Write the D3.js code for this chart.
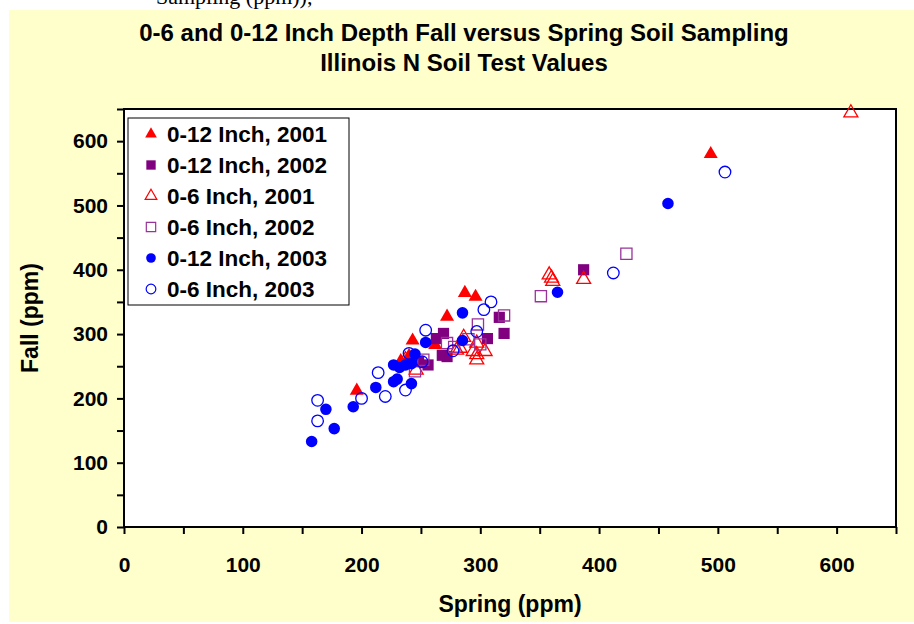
<!DOCTYPE html>
<html>
<head>
<meta charset="utf-8">
<script src="https://cdn.jsdelivr.net/npm/d3@7"></script>
<style>
  body { margin: 0; background: #fff; }
  text { font-family: Arial, "Liberation Sans", sans-serif; font-weight: bold; }
</style>
</head>
<body>
<div id="chart"></div>
<script>
// data: [spring, fall] in ppm
var in12_2001 = [[196,212],[233,258],[240,266],[243,290],[262,283],[272,327],[287,364],[296,358],[494,580]];
var in12_2002 = [[248,257],[256,252],[263,293],[268,267],[269,301],[272,265],[306,293],[316,326],[320,301],[387,400]];
var in6_2001 = [[237,260],[246,244],[280,275],[283,278],[286,295],[294,273],[297,286],[297,260],[297,268],[304,273],[358,392],[360,387],[361,382],[387,385],[612,644]];
var in6_2002 = [[245,242],[252,260],[272,286],[278,280],[290,292],[298,315],[300,284],[320,329],[351,359],[423,425]];
var in12_2003 = [[158,133],[170,183],[177,153],[193,187],[212,217],[227,226],[230,230],[227,252],[232,248],[237,252],[242,254],[242,223],[245,269],[254,287],[285,290],[285,333],[365,365],[458,503]];
var in6_2003 = [[163,197],[163,165],[200,200],[214,240],[220,203],[237,213],[240,270],[251,257],[254,306],[277,274],[297,304],[303,338],[309,350],[412,395],[506,552]];

var seriesNames = ["0-12 Inch, 2001","0-12 Inch, 2002","0-6 Inch, 2001","0-6 Inch, 2002","0-12 Inch, 2003","0-6 Inch, 2003"];
var xTicks = [0,100,200,300,400,500,600];
var yTicks = [0,100,200,300,400,500,600];

var series = [
  { name: seriesNames[0], data: in12_2001, shape: d3.symbolTriangle, color: "#ff0000", filled: true },
  { name: seriesNames[1], data: in12_2002, shape: d3.symbolSquare, color: "#800080", filled: true },
  { name: seriesNames[2], data: in6_2001, shape: d3.symbolTriangle, color: "#ff0000", filled: false },
  { name: seriesNames[3], data: in6_2002, shape: d3.symbolSquare, color: "#993399", filled: false },
  { name: seriesNames[4], data: in12_2003, shape: d3.symbolCircle, color: "#0000ff", filled: true },
  { name: seriesNames[5], data: in6_2003, shape: d3.symbolCircle, color: "#0000ff", filled: false }
];

var width = 914, height = 624;
var margin = { top: 109, right: 18, bottom: 97, left: 124 };
var plotW = width - margin.left - margin.right;
var plotH = height - margin.top - margin.bottom;

var svg = d3.select("#chart").append("svg")
  .attr("width", width)
  .attr("height", height);

// caption of the page above, cut off by the top edge
svg.append("text")
  .attr("x", 156).attr("y", 4)
  .style("font-family", "'Liberation Serif', 'Times New Roman', serif")
  .style("font-weight", "normal")
  .style("font-size", "22px")
  .text("Sampling (ppm)),");

svg.append("rect")
  .attr("x", 9).attr("y", 10)
  .attr("width", width - 9).attr("height", 612)
  .attr("fill", "#ffffcc");

svg.append("text")
  .attr("x", 464).attr("y", 41)
  .attr("text-anchor", "middle")
  .style("font-size", "24px")
  .text("0-6 and 0-12 Inch Depth Fall versus Spring Soil Sampling");
svg.append("text")
  .attr("x", 464).attr("y", 71)
  .attr("text-anchor", "middle")
  .style("font-size", "24px")
  .text("Illinois N Soil Test Values");

var xScale = d3.scaleLinear().domain([0, 650]).range([0, plotW]);
var yScale = d3.scaleLinear().domain([0, 650]).range([plotH, 0]);

var g = svg.append("g").attr("transform", "translate(" + margin.left + "," + margin.top + ")");

g.append("rect")
  .attr("width", plotW).attr("height", plotH)
  .attr("fill", "#fff");

var xAxis = d3.axisBottom(xScale).tickValues(d3.range(0, 651, 50)).tickSize(7)
  .tickFormat(function(d) { return xTicks.indexOf(d) >= 0 ? d : ""; });
var yAxis = d3.axisLeft(yScale).tickValues(d3.range(0, 651, 50)).tickSize(7)
  .tickFormat(function(d) { return yTicks.indexOf(d) >= 0 ? d : ""; });

var xAxisG = g.append("g").attr("transform", "translate(0," + plotH + ")").call(xAxis);
var yAxisG = g.append("g").call(yAxis);

[xAxisG, yAxisG].forEach(function(a) {
  a.select(".domain").remove();
  a.selectAll(".tick line").attr("stroke", "#000").attr("stroke-width", 2);
  a.selectAll(".tick text").style("font-size", "21px").attr("fill", "#000");
});
xAxisG.selectAll(".tick text").attr("y", 30).attr("dy", "0.71em");
yAxisG.selectAll(".tick text").attr("x", -16);

g.append("rect")
  .attr("width", plotW).attr("height", plotH)
  .attr("fill", "none").attr("stroke", "#000").attr("stroke-width", 2);

function sizeOf(shape) {
  if (shape === d3.symbolTriangle) return 85;
  if (shape === d3.symbolSquare) return 125;
  return 105;
}

series.forEach(function(s) {
  g.append("g").selectAll("path")
    .data(s.data)
    .join("path")
    .attr("transform", function(d) { return "translate(" + xScale(d[0]) + "," + yScale(d[1]) + ")"; })
    .attr("d", d3.symbol().type(s.shape).size(sizeOf(s.shape)))
    .attr("fill", s.filled ? s.color : "none")
    .attr("stroke", s.filled ? "none" : s.color)
    .attr("stroke-width", 1.3);
});

// legend
var legend = svg.append("g").attr("transform", "translate(128,118)");
legend.append("rect")
  .attr("width", 221).attr("height", 187)
  .attr("fill", "#fff").attr("stroke", "#000").attr("stroke-width", 1);

var rows = legend.selectAll("g.row")
  .data(series)
  .join("g")
  .attr("class", "row")
  .attr("transform", function(d, i) { return "translate(0," + (16 + i * 31) + ")"; });

rows.append("path")
  .attr("transform", "translate(23,0)")
  .attr("d", function(d) { return d3.symbol().type(d.shape).size(sizeOf(d.shape) * 0.7)(); })
  .attr("fill", function(d) { return d.filled ? d.color : "none"; })
  .attr("stroke", function(d) { return d.filled ? "none" : d.color; })
  .attr("stroke-width", 1.2);

rows.append("text")
  .attr("x", 39).attr("y", 8)
  .style("font-size", "22.5px")
  .text(function(d) { return d.name; });

svg.append("text")
  .attr("x", 510).attr("y", 612)
  .attr("text-anchor", "middle")
  .style("font-size", "23px")
  .text("Spring (ppm)");

svg.append("text")
  .attr("transform", "translate(38,318) rotate(-90)")
  .attr("text-anchor", "middle")
  .style("font-size", "23px")
  .text("Fall (ppm)");
</script>
</body>
</html>
